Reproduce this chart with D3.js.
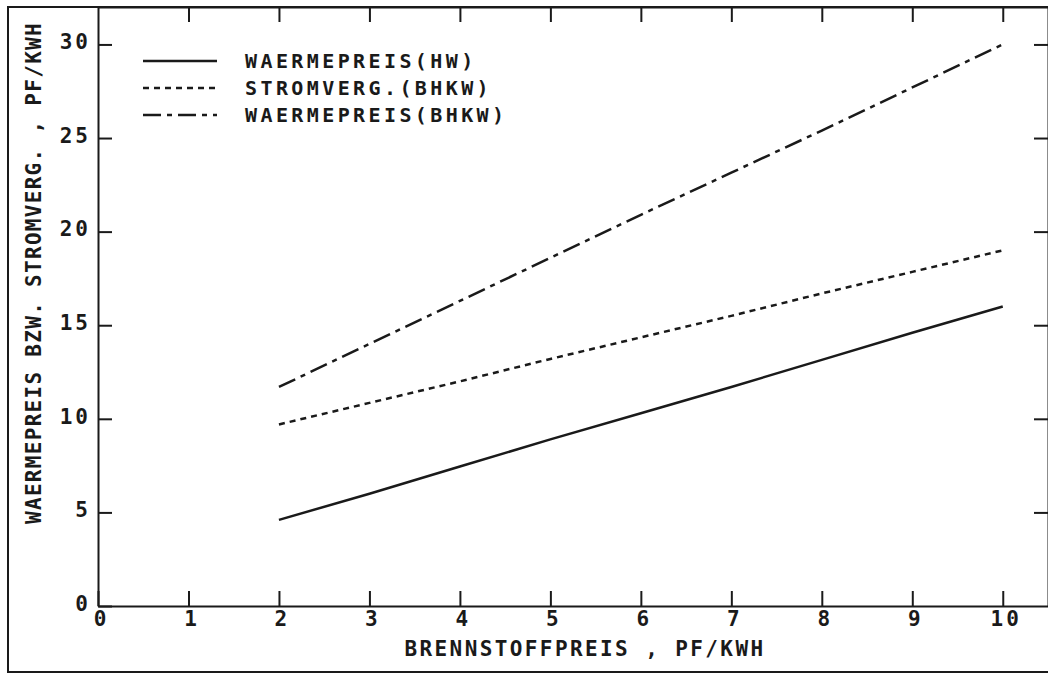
<!DOCTYPE html>
<html>
<head>
<meta charset="utf-8">
<script src="https://cdn.jsdelivr.net/npm/d3@7"></script>
<style>
  body { margin: 0; background: #fff; }
  svg text { font-family: "DejaVu Sans Mono", monospace; font-weight: bold; fill: #1a1a1a; }
</style>
</head>
<body>
<svg class="chart" width="1048" height="675"></svg>
<script>
// fuel price, Pf/kWh
const fuelPrice = [2, 3, 4, 5, 6, 7, 8, 9, 10];
// heat price of the heating plant
const heatPriceHW = [4.6, 6.0, 7.45, 8.9, 10.3, 11.7, 13.15, 14.6, 16.0];
// electricity credit of the CHP
const powerCredit = [9.7, 10.85, 12.0, 13.2, 14.35, 15.5, 16.7, 17.85, 19.0];
// heat price of the CHP
const heatPriceBHKW = [11.7, 14.0, 16.3, 18.6, 20.9, 23.15, 25.4, 27.7, 30.0];

const xTicks = [0, 1, 2, 3, 4, 5, 6, 7, 8, 9, 10];
const yTicks = [0, 5, 10, 15, 20, 25, 30];
const seriesNames = ["WAERMEPREIS(HW)", "STROMVERG.(BHKW)", "WAERMEPREIS(BHKW)"];

const ink = "#1a1a1a";
const margin = { top: 7, right: 0, bottom: 69, left: 98 };
const width = 1048 - margin.left - margin.right;
const height = 675 - margin.top - margin.bottom;

const svg = d3.select(".chart");

// outer frame (right edge runs off the picture)
svg.append("rect")
  .attr("x", 8).attr("y", 7)
  .attr("width", 1060).attr("height", 665)
  .attr("fill", "none").attr("stroke", ink).attr("stroke-width", 2);

const g = svg.append("g").attr("transform", `translate(${margin.left},${margin.top})`);

const x = d3.scaleLinear().domain([0, 10.5]).range([0, width]);
const y = d3.scaleLinear().domain([0, 32]).range([height, 0]);

function styleAxis(sel) {
  sel.select(".domain").attr("stroke", ink).attr("stroke-width", 2);
  sel.selectAll(".tick line").attr("stroke", ink).attr("stroke-width", 2);
  sel.selectAll("text")
    .attr("font-family", "DejaVu Sans Mono")
    .attr("font-weight", "bold")
    .attr("font-size", 21)
    .attr("letter-spacing", 3)
    .attr("fill", ink);
}

// bottom axis, ticks point up
g.append("g")
  .attr("transform", `translate(0,${height})`)
  .call(d3.axisBottom(x).tickValues(xTicks).tickSizeInner(-15).tickSizeOuter(0).tickPadding(5))
  .call(styleAxis)
  .call((a) => a.selectAll("text").attr("dx", 3));

// top axis, ticks point down
g.append("g")
  .call(d3.axisTop(x).tickValues(xTicks.slice(1)).tickSizeInner(-15).tickSizeOuter(0).tickFormat(""))
  .call(styleAxis);

// left axis, ticks point right
g.append("g")
  .call(d3.axisLeft(y).tickValues(yTicks).tickSizeInner(-14).tickSizeOuter(0).tickPadding(7))
  .call(styleAxis)
  .call((a) => a.selectAll("text").attr("dy", "0.2em"));

// right axis, ticks point left
g.append("g")
  .attr("transform", `translate(${width},0)`)
  .call(d3.axisRight(y).tickValues(yTicks.slice(1)).tickSizeInner(-14).tickSizeOuter(0).tickFormat(""))
  .call(styleAxis);

const series = [
  { name: seriesNames[0], values: heatPriceHW, dash: null },
  { name: seriesNames[1], values: powerCredit, dash: "6,5" },
  { name: seriesNames[2], values: heatPriceBHKW, dash: "18,6,5,6" },
];

const line = d3.line()
  .x((d) => x(d[0]))
  .y((d) => y(d[1]));

series.forEach((s) => {
  g.append("path")
    .datum(fuelPrice.map((f, i) => [f, s.values[i]]))
    .attr("d", line)
    .attr("fill", "none")
    .attr("stroke", ink)
    .attr("stroke-width", 2.5)
    .attr("stroke-dasharray", s.dash);
});

// legend
const legend = svg.append("g").attr("transform", "translate(143,61)");
series.forEach((s, i) => {
  const row = legend.append("g").attr("transform", `translate(0,${i * 27})`);
  row.append("line")
    .attr("x1", 0).attr("x2", 74)
    .attr("stroke", ink).attr("stroke-width", 2.5)
    .attr("stroke-dasharray", s.dash);
  row.append("text")
    .attr("x", 102).attr("dy", "0.36em")
    .attr("font-size", 20)
    .attr("letter-spacing", 3.4)
    .text(s.name);
});

// axis titles
svg.append("text")
  .attr("x", 585).attr("y", 656)
  .attr("text-anchor", "middle")
  .attr("font-size", 21)
  .attr("letter-spacing", 2.4)
  .text("BRENNSTOFFPREIS , PF/KWH");

svg.append("text")
  .attr("transform", "translate(41,273) rotate(-90)")
  .attr("text-anchor", "middle")
  .attr("font-size", 21)
  .attr("letter-spacing", 1.3)
  .text("WAERMEPREIS BZW. STROMVERG. , PF/KWH");
</script>
</body>
</html>
